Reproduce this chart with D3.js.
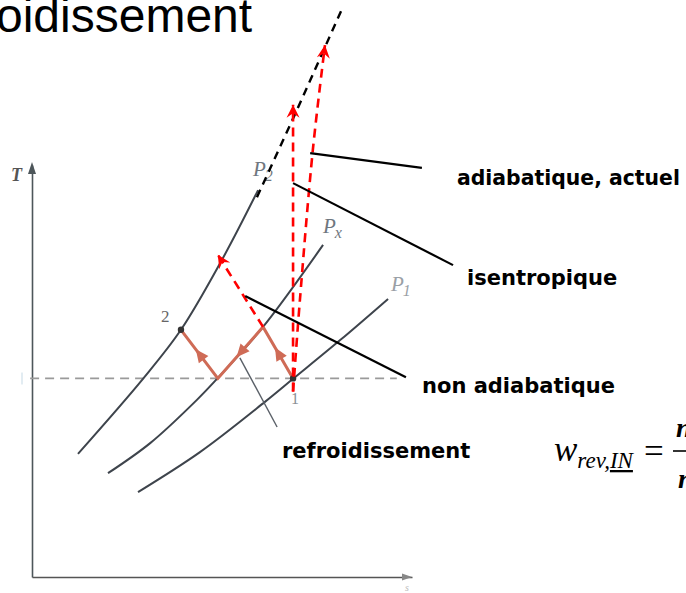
<!DOCTYPE html>
<html><head><meta charset="utf-8">
<script src="https://cdn.jsdelivr.net/npm/d3@7"></script>
<style>html,body{margin:0;padding:0;background:#fff;overflow:hidden}</style>
</head><body><svg id="c" width="686" height="593"></svg>
<script>
// ---- data (entropy s, temperature T in arbitrary diagram units 0..100) ----
const isobarP2 = [[12.1,29.9],[29.2,48.1],[39.2,60.0],[50.0,77.0],[59.5,93.9]];
const isobarPx = [[20.0,25.2],[31.1,32.5],[43.4,43.0],[48.9,48.3],[60.8,60.7],[76.6,80.6]];
const isobarP1 = [[27.9,20.6],[44.2,30.3],[61.3,42.5],[68.7,48.1],[81.1,57.5],[93.7,67.5]];
const isobarP2ext = [[59.2,92.2],[69.7,113.3],[81.6,137.9]];
const T1level = 48.2;
const T1range = [-0.5, 96];
const state1 = [68.7, 48.2];
const state2 = [39.2, 60.0];
const cooledPath = [[68.7,48.2],[60.8,60.7],[48.9,48.2],[39.2,60.0]];
const isentropic = [[68.7,45.0],[68.7,114.6]];
const adiabaticActual = [[68.7,45.0],[70.5,67.2],[73.9,103.6],[77.1,129.1]];
const nonAdiabatic = [[60.8,60.7],[48.9,78.2]];
const pointerAdiab = [[73.2,102.9],[102.6,99.3]];
const pointerIsen = [[68.7,95.6],[110.8,75.7]];
const pointerNonAd = [[56.1,68.2],[98.4,48.5]];
const pointerCool = [[54.7,53.2],[64.5,36.4]];
const labelTexts = ["adiabatique, actuel","isentropique","non adiabatique","refroidissement"];
const titleText = "oidissement";

const svg = d3.select("#c");
const sx = d3.scaleLinear().domain([0,100]).range([32,412]);
const sy = d3.scaleLinear().domain([0,100]).range([577,165]);
const line = d3.line().x(d=>sx(d[0])).y(d=>sy(d[1]));
const curve = d3.line().x(d=>sx(d[0])).y(d=>sy(d[1])).curve(d3.curveCatmullRom.alpha(0.5));

const defs = svg.append("defs");
defs.append("marker").attr("id","redhead").attr("markerUnits","userSpaceOnUse")
  .attr("viewBox","-14 -7 15 14").attr("refX",0).attr("refY",0)
  .attr("markerWidth",15).attr("markerHeight",14).attr("orient","auto")
  .append("path").attr("d","M0,0 L-13,-6.5 L-8.5,0 L-13,6.5 Z").attr("fill","#ff0000");

// title
svg.append("text").attr("x",-4).attr("y",32).attr("font-family","Liberation Sans, Arial, sans-serif")
  .attr("font-size",48).attr("fill","#000").text(titleText);

// axes
const gy = svg.append("g").attr("transform",`translate(${sx(0)},0)`)
  .call(d3.axisLeft(sy).tickValues([]).tickSizeOuter(0));
gy.select(".domain").attr("stroke","#4d565a").attr("stroke-width",1.6);
const gx = svg.append("g").attr("transform",`translate(0,${sy(0)})`)
  .call(d3.axisBottom(sx).tickValues([]).tickSizeOuter(0));
gx.select(".domain").attr("stroke","#555").attr("stroke-width",1.4);
svg.append("path").attr("d",`M${sx(0)},${sy(100)-3} l-4,12 l8,0 Z`).attr("fill","#4d565a");
svg.append("path").attr("d",`M${sx(100)},${sy(0)} l-10,-3.5 l0,7 Z`).attr("fill","#888");
svg.append("text").attr("x",11).attr("y",181).attr("font-family","Liberation Serif, serif")
  .attr("font-style","italic").attr("font-weight","bold").attr("font-size",18).attr("fill","#555").text("T");
svg.append("text").attr("x",405).attr("y",591).attr("font-family","Liberation Serif, serif")
  .attr("font-style","italic").attr("font-size",10).attr("fill","#bbb").text("s");

// isotherm dashed
svg.append("line").attr("x1",sx(T1range[0])).attr("x2",sx(T1range[1]))
  .attr("y1",sy(T1level)).attr("y2",sy(T1level))
  .attr("stroke","#9a9a9a").attr("stroke-width",1.6).attr("stroke-dasharray","9,6");
svg.append("line").attr("x1",22).attr("x2",22).attr("y1",sy(T1level)-6).attr("y2",sy(T1level)+6)
  .attr("stroke","#cfe0ea").attr("stroke-width",1.2);

// isobars
[isobarP2, isobarPx, isobarP1].forEach(d=>{
  svg.append("path").attr("d",curve(d)).attr("fill","none")
    .attr("stroke","#3e444c").attr("stroke-width",2);
});

// isobar labels
function pLabel(x,y,sub,col){
  const t = svg.append("text").attr("x",x).attr("y",y).attr("font-family","Liberation Serif, serif")
    .attr("font-style","italic").attr("fill",col).attr("font-size",21);
  t.append("tspan").text("P");
  t.append("tspan").attr("dy",5).attr("font-size",16).attr("dx",-1).text(sub);
}
pLabel(253,176,"2","#6f7780");
pLabel(323,233,"x","#6f7780");
pLabel(391,291,"1","#9aa0a6");

// black dashed extension
svg.append("path").attr("d",line(isobarP2ext)).attr("fill","none")
  .attr("stroke","#000").attr("stroke-width",2.4).attr("stroke-dasharray","8,6");

// cooled path (brown)
svg.append("path").attr("d",line(cooledPath)).attr("fill","none")
  .attr("stroke","#cf6b56").attr("stroke-width",3);
for(let i=0;i<cooledPath.length-1;i++){
  const a=[sx(cooledPath[i][0]),sy(cooledPath[i][1])], b=[sx(cooledPath[i+1][0]),sy(cooledPath[i+1][1])];
  const f=0.5, mx=a[0]+(b[0]-a[0])*f, my=a[1]+(b[1]-a[1])*f;
  const ang=Math.atan2(b[1]-a[1],b[0]-a[0])*180/Math.PI;
  svg.append("path").attr("d","M6,0 L-7,-6 L-7,6 Z").attr("fill","#cf6b56")
    .attr("transform",`translate(${mx},${my}) rotate(${ang})`);
}

// state points
[state1,state2].forEach(p=>svg.append("circle").attr("cx",sx(p[0])).attr("cy",sy(p[1])).attr("r",3.2).attr("fill","#333"));
svg.append("text").attr("x",161).attr("y",322).attr("font-family","Liberation Serif, serif")
  .attr("font-size",17).attr("fill","#666").text("2");
svg.append("text").attr("x",291).attr("y",404).attr("font-family","Liberation Serif, serif")
  .attr("font-size",16).attr("fill","#8a8f96").text("1");

// cooling pointer (gray)
svg.append("path").attr("d",line(pointerCool)).attr("stroke","#5a6068").attr("stroke-width",1.4).attr("fill","none");

// red dashed arrows
[isentropic, adiabaticActual, nonAdiabatic].forEach((d,i)=>{
  svg.append("path").attr("d",(i===1?curve:line)(d)).attr("fill","none")
    .attr("stroke","#ff0000").attr("stroke-width",2.6).attr("stroke-dasharray","9,6")
    .attr("marker-end","url(#redhead)");
});

// black pointer lines
[pointerAdiab, pointerIsen, pointerNonAd].forEach(d=>{
  svg.append("path").attr("d",line(d)).attr("stroke","#000").attr("stroke-width",2.2).attr("fill","none");
});

// labels
const lab = [[457,185,20.4],[467,285,21],[422,393,21],[282,458,21]];
labelTexts.forEach((t,i)=>{
  svg.append("text").attr("x",lab[i][0]).attr("y",lab[i][1])
    .attr("font-family","DejaVu Sans, Verdana, sans-serif").attr("font-weight","bold")
    .attr("font-size",lab[i][2]).attr("fill","#000").text(t);
});

// formula
const f = svg.append("text").attr("x",554).attr("y",461).attr("font-family","Liberation Serif, serif")
  .attr("font-style","italic").attr("fill","#000");
f.append("tspan").attr("font-size",35).text("w");
f.append("tspan").attr("font-size",23).attr("dy",7).text("rev,");
f.append("tspan").attr("font-size",23).style("text-decoration","underline").text("IN");
svg.append("text").attr("x",644).attr("y",463).attr("font-family","Liberation Serif, serif")
  .attr("font-size",35).text("=");
svg.append("line").attr("x1",673).attr("x2",690).attr("y1",451).attr("y2",451).attr("stroke","#000").attr("stroke-width",1.6);
svg.append("text").attr("x",676).attr("y",437).attr("font-family","Liberation Serif, serif")
  .attr("font-style","italic").attr("font-weight","bold").attr("font-size",28).text("nR(T\u2082 \u2212 T\u2081)");
svg.append("text").attr("x",678).attr("y",488).attr("font-family","Liberation Serif, serif")
  .attr("font-style","italic").attr("font-weight","bold").attr("font-size",28).text("n \u2212 1");
</script></body></html>
